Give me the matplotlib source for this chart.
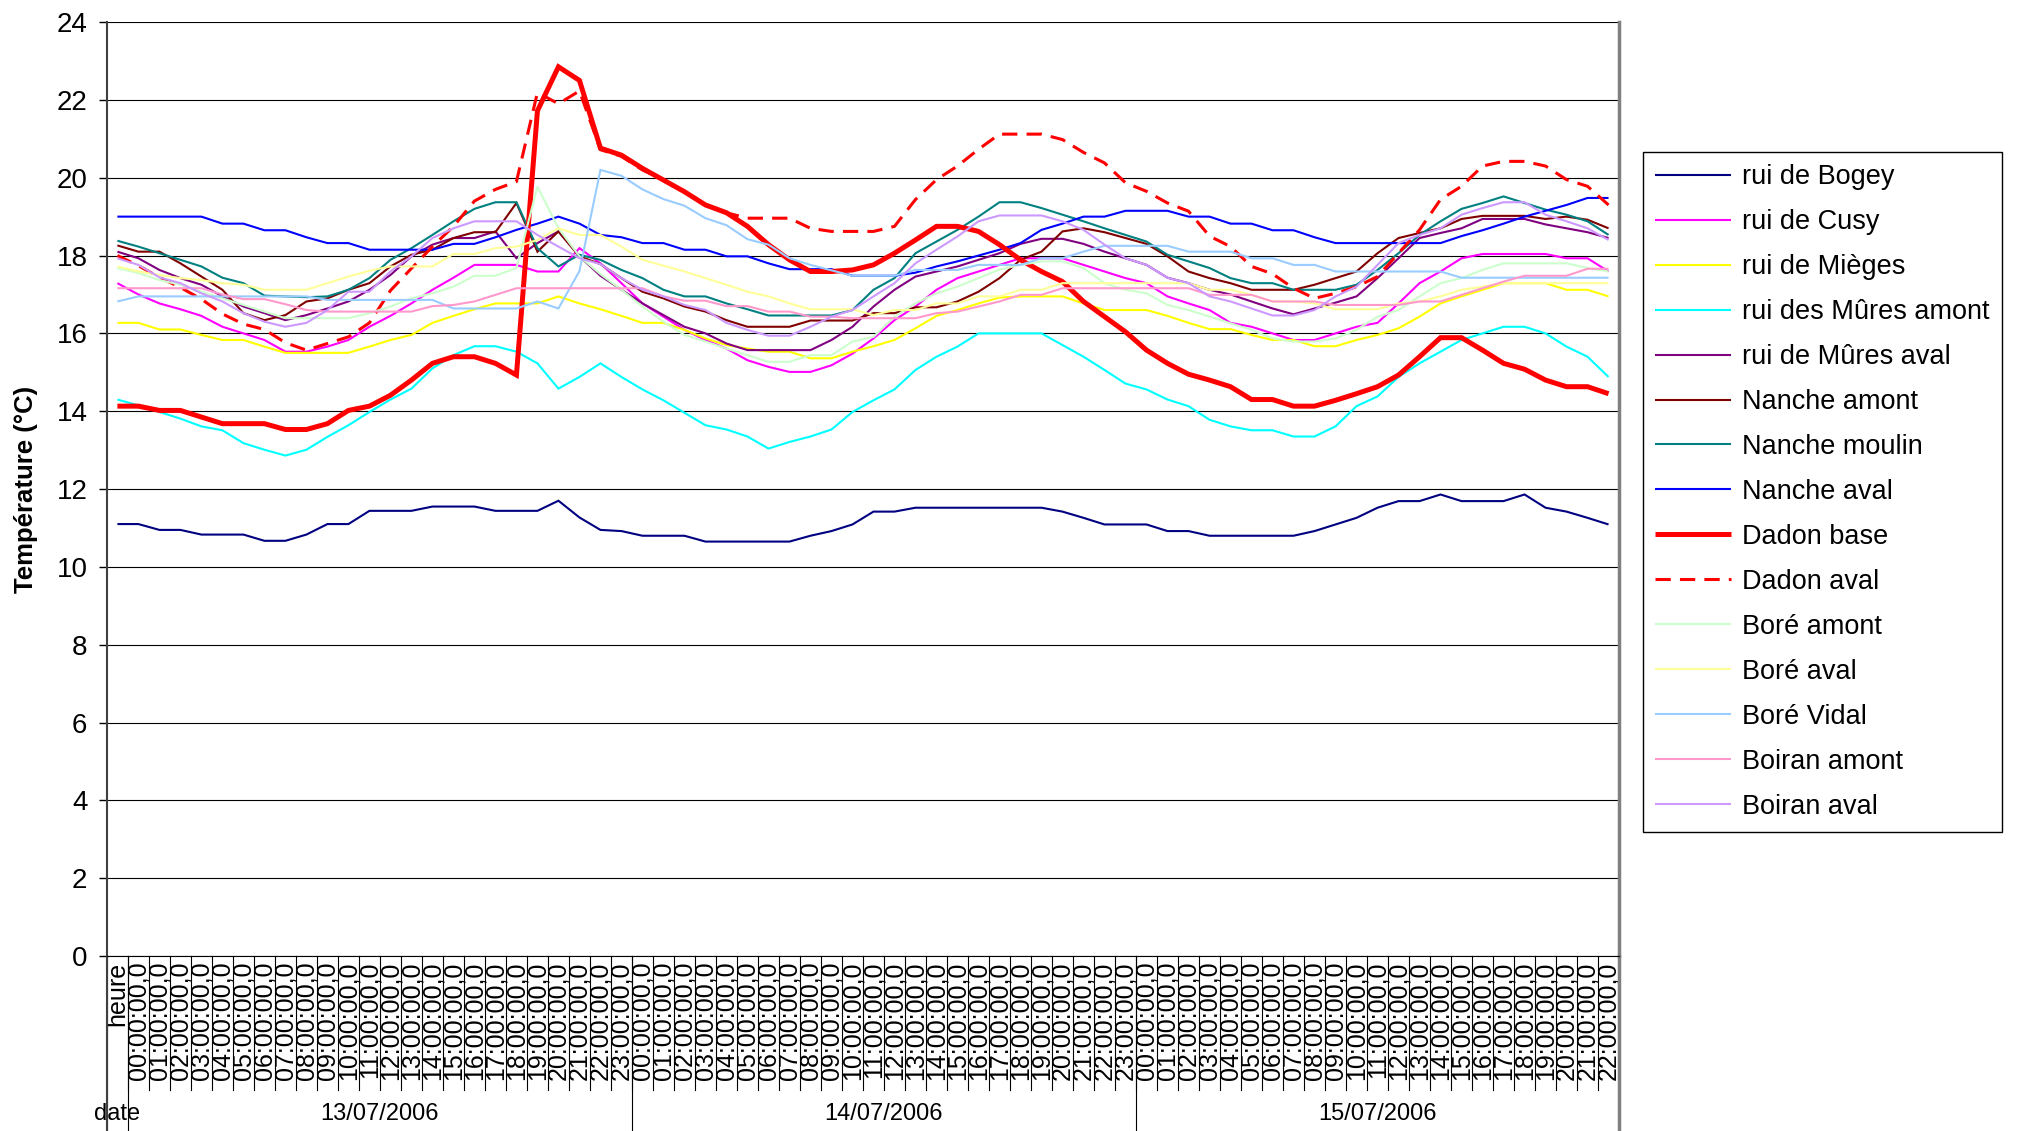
import numpy as np
import matplotlib

matplotlib.use("Agg")
import matplotlib.pyplot as plt
import matplotlib.transforms as mtransforms

plt.rcParams["font.family"] = ["Liberation Sans", "DejaVu Sans"]

# category axis: first slot is the header column, then hourly readings
hours_day1 = [f"{h:02d}:00:00,0" for h in range(24)]
hours_day2 = [f"{h:02d}:00:00,0" for h in range(24)]
hours_day3 = [f"{h:02d}:00:00,0" for h in range(23)]
hour_labels = ["heure"] + hours_day1 + hours_day2 + hours_day3
date_labels = ["date", "13/07/2006", "14/07/2006", "15/07/2006"]
date_spans = [(0, 0), (1, 24), (25, 48), (49, 71)]

rui_de_bogey = [11.1, 11.1, 10.95, 10.95, 10.83, 10.83, 10.83, 10.67, 10.67, 10.83,
                11.1, 11.1, 11.44, 11.44, 11.44, 11.55, 11.55, 11.55, 11.44, 11.44,
                11.44, 11.7, 11.27, 10.95, 10.92, 10.8, 10.8, 10.8, 10.65, 10.65,
                10.65, 10.65, 10.65, 10.8, 10.92, 11.09, 11.42, 11.42, 11.52, 11.52,
                11.52, 11.52, 11.52, 11.52, 11.52, 11.42, 11.26, 11.09, 11.09, 11.09,
                10.92, 10.92, 10.8, 10.8, 10.8, 10.8, 10.8, 10.92, 11.09, 11.26,
                11.52, 11.69, 11.69, 11.86, 11.69, 11.69, 11.69, 11.86, 11.52, 11.42,
                11.26, 11.09]
rui_de_cusy = [17.29, 17.0, 16.77, 16.62, 16.45, 16.17, 16.0, 15.83, 15.53, 15.53,
               15.66, 15.83, 16.17, 16.45, 16.77, 17.12, 17.43, 17.76, 17.76, 17.76,
               17.59, 17.59, 18.19, 17.8, 17.29, 16.77, 16.43, 16.09, 15.83, 15.61,
               15.31, 15.14, 15.01, 15.01, 15.18, 15.48, 15.87, 16.34, 16.69, 17.12,
               17.42, 17.59, 17.76, 17.93, 17.93, 17.93, 17.76, 17.59, 17.42, 17.29,
               16.95, 16.77, 16.6, 16.27, 16.17, 16.0, 15.83, 15.83, 16.0, 16.17,
               16.27, 16.77, 17.29, 17.59, 17.93, 18.04, 18.04, 18.04, 18.04, 17.93,
               17.93, 17.59]
rui_de_mieges = [16.27, 16.27, 16.1, 16.1, 15.96, 15.83, 15.83, 15.66, 15.5, 15.5,
                 15.5, 15.5, 15.66, 15.83, 15.96, 16.27, 16.45, 16.62, 16.77, 16.77,
                 16.77, 16.95, 16.77, 16.62, 16.45, 16.27, 16.27, 16.09, 15.87, 15.7,
                 15.61, 15.53, 15.53, 15.36, 15.36, 15.53, 15.67, 15.83, 16.13, 16.45,
                 16.6, 16.77, 16.92, 16.95, 16.95, 16.95, 16.77, 16.6, 16.6, 16.6,
                 16.45, 16.27, 16.11, 16.11, 15.96, 15.83, 15.83, 15.67, 15.67, 15.83,
                 15.96, 16.13, 16.43, 16.77, 16.95, 17.12, 17.29, 17.29, 17.29, 17.12,
                 17.12, 16.95]
rui_des_mures_amont = [14.3, 14.15, 13.98, 13.81, 13.61, 13.51, 13.18, 13.01, 12.86, 13.01,
                       13.34, 13.64, 13.98, 14.3, 14.58, 15.1, 15.44, 15.67, 15.67, 15.53,
                       15.23, 14.58, 14.88, 15.23, 14.88, 14.56, 14.28, 13.96, 13.64, 13.53,
                       13.35, 13.04, 13.21, 13.35, 13.53, 13.98, 14.28, 14.56, 15.06, 15.4,
                       15.66, 16.0, 16.0, 16.0, 16.0, 15.7, 15.4, 15.06, 14.71, 14.56,
                       14.3, 14.13, 13.78, 13.61, 13.51, 13.51, 13.35, 13.35, 13.61, 14.13,
                       14.38, 14.88, 15.23, 15.53, 15.83, 16.0, 16.17, 16.17, 16.0, 15.66,
                       15.4, 14.88]
rui_de_mures_aval = [18.1, 17.93, 17.63, 17.42, 17.25, 16.95, 16.69, 16.52, 16.34, 16.47,
                     16.64, 16.82, 17.12, 17.5, 17.98, 18.28, 18.45, 18.45, 18.62, 17.93,
                     18.32, 18.62, 17.98, 17.48, 17.12, 16.77, 16.47, 16.17, 16.0, 15.74,
                     15.57, 15.57, 15.57, 15.57, 15.83, 16.17, 16.69, 17.12, 17.46, 17.59,
                     17.72, 17.89, 18.06, 18.3, 18.43, 18.43, 18.3, 18.1, 17.93, 17.76,
                     17.43, 17.29, 17.12, 17.0, 16.82, 16.64, 16.49, 16.64, 16.79, 16.95,
                     17.42, 17.93, 18.45, 18.58, 18.7, 18.94, 18.94, 18.94, 18.8, 18.7,
                     18.6, 18.45]
nanche_amont = [18.26, 18.1, 18.1, 17.8, 17.46, 17.12, 16.52, 16.34, 16.47, 16.82,
                16.9, 17.12, 17.29, 17.72, 18.02, 18.15, 18.45, 18.6, 18.6, 19.35,
                18.1, 18.62, 17.98, 17.78, 17.42, 17.07, 16.9, 16.69, 16.56, 16.34,
                16.17, 16.17, 16.17, 16.33, 16.33, 16.33, 16.52, 16.52, 16.67, 16.67,
                16.82, 17.07, 17.42, 17.89, 18.1, 18.62, 18.7, 18.6, 18.45, 18.3,
                17.98, 17.59, 17.42, 17.29, 17.12, 17.12, 17.12, 17.25, 17.42, 17.59,
                18.06, 18.45, 18.58, 18.7, 18.94, 19.02, 19.02, 19.02, 18.94, 19.0,
                18.92, 18.7]
nanche_moulin = [18.38, 18.23, 18.06, 17.89, 17.72, 17.43, 17.29, 16.97, 16.95, 16.93,
                 16.95, 17.12, 17.42, 17.89, 18.19, 18.53, 18.88, 19.2, 19.37, 19.37,
                 18.19, 17.72, 18.02, 17.89, 17.63, 17.42, 17.12, 16.95, 16.95, 16.77,
                 16.62, 16.46, 16.46, 16.46, 16.46, 16.6, 17.12, 17.42, 18.06, 18.36,
                 18.66, 19.0, 19.37, 19.37, 19.22, 19.05, 18.88, 18.7, 18.53, 18.36,
                 18.02, 17.85, 17.68, 17.42, 17.29, 17.29, 17.12, 17.12, 17.12, 17.25,
                 17.63, 18.06, 18.53, 18.88, 19.2, 19.35, 19.52, 19.35, 19.18, 19.05,
                 18.88, 18.53]
nanche_aval = [19.0, 19.0, 19.0, 19.0, 19.0, 18.82, 18.82, 18.65, 18.65, 18.47,
               18.32, 18.32, 18.15, 18.15, 18.15, 18.15, 18.3, 18.3, 18.47, 18.66,
               18.82, 19.0, 18.82, 18.53, 18.47, 18.32, 18.32, 18.15, 18.15, 17.98,
               17.98, 17.8, 17.65, 17.65, 17.65, 17.48, 17.48, 17.48, 17.56, 17.72,
               17.85, 18.0, 18.15, 18.32, 18.66, 18.82, 19.0, 19.0, 19.15, 19.15,
               19.15, 19.0, 19.0, 18.82, 18.82, 18.65, 18.65, 18.47, 18.32, 18.32,
               18.32, 18.32, 18.32, 18.32, 18.5, 18.65, 18.82, 19.0, 19.15, 19.3,
               19.48, 19.48]
dadon_base = [14.13, 14.13, 14.02, 14.02, 13.85, 13.68, 13.68, 13.68, 13.53, 13.53,
              13.68, 14.02, 14.13, 14.41, 14.8, 15.23, 15.4, 15.4, 15.23, 14.93,
              21.72, 22.85, 22.5, 20.76, 20.58, 20.24, 19.94, 19.64, 19.3, 19.1,
              18.75, 18.28, 17.89, 17.59, 17.59, 17.63, 17.76, 18.06, 18.4, 18.75,
              18.75, 18.62, 18.28, 17.89, 17.59, 17.33, 16.82, 16.43, 16.04, 15.57,
              15.23, 14.95, 14.8, 14.63, 14.3, 14.3, 14.13, 14.13, 14.28, 14.45,
              14.63, 14.93, 15.4, 15.89, 15.89, 15.57, 15.23, 15.08, 14.8, 14.63,
              14.63, 14.45]
dadon_aval = [18.0, 17.74, 17.44, 17.18, 16.88, 16.5, 16.24, 16.1, 15.76, 15.57,
              15.74, 15.91, 16.27, 17.1, 17.67, 18.23, 18.75, 19.4, 19.7, 19.9,
              22.19, 21.9, 22.23, 20.72, 20.55, 20.2, 19.95, 19.65, 19.3, 19.1,
              18.96, 18.96, 18.96, 18.7, 18.62, 18.62, 18.62, 18.75, 19.44, 19.95,
              20.3, 20.73, 21.12, 21.12, 21.12, 20.98, 20.65, 20.38, 19.87, 19.65,
              19.35, 19.14, 18.5, 18.23, 17.72, 17.53, 17.16, 16.9, 17.03, 17.2,
              17.46, 18.06, 18.66, 19.44, 19.78, 20.3, 20.42, 20.42, 20.3, 19.95,
              19.78, 19.3]
bore_amont = [17.68, 17.55, 17.37, 17.25, 17.07, 16.9, 16.73, 16.56, 16.39, 16.39,
              16.39, 16.39, 16.52, 16.69, 16.9, 17.03, 17.2, 17.48, 17.48, 17.68,
              19.77, 18.7, 17.98, 17.52, 17.12, 16.69, 16.3, 15.96, 15.79, 15.61,
              15.44, 15.27, 15.27, 15.44, 15.44, 15.79, 15.91, 16.43, 16.77, 17.03,
              17.2, 17.42, 17.64, 17.76, 17.85, 17.85, 17.68, 17.29, 17.12, 17.03,
              16.73, 16.6, 16.43, 16.26, 16.09, 15.87, 15.79, 15.79, 15.87, 16.09,
              16.43, 16.6, 16.95, 17.29, 17.42, 17.63, 17.8, 17.8, 17.8, 17.8,
              17.68, 17.59]
bore_aval = [17.72, 17.59, 17.5, 17.42, 17.37, 17.29, 17.25, 17.12, 17.12, 17.12,
             17.29, 17.46, 17.61, 17.72, 17.72, 17.72, 18.04, 18.04, 18.19, 18.23,
             18.4, 18.7, 18.53, 18.53, 18.23, 17.89, 17.74, 17.59, 17.42, 17.25,
             17.07, 16.95, 16.77, 16.62, 16.62, 16.62, 16.47, 16.6, 16.6, 16.77,
             16.77, 16.95, 16.95, 17.12, 17.12, 17.29, 17.29, 17.29, 17.29, 17.29,
             17.29, 17.29, 17.12, 17.12, 16.99, 16.82, 16.82, 16.77, 16.62, 16.62,
             16.62, 16.77, 16.82, 16.95, 17.12, 17.2, 17.29, 17.29, 17.29, 17.29,
             17.29, 17.29]
bore_vidal = [16.82, 16.95, 16.95, 16.95, 16.95, 16.95, 16.95, 16.95, 16.95, 16.95,
              16.86, 16.86, 16.86, 16.86, 16.86, 16.86, 16.64, 16.64, 16.64, 16.64,
              16.82, 16.64, 17.6, 20.2, 20.05, 19.7, 19.45, 19.28, 18.96, 18.78,
              18.42, 18.28, 17.93, 17.76, 17.62, 17.48, 17.48, 17.48, 17.63, 17.63,
              17.63, 17.76, 17.76, 17.76, 17.93, 17.93, 18.1, 18.25, 18.25, 18.25,
              18.25, 18.1, 18.1, 18.1, 17.93, 17.93, 17.76, 17.76, 17.59, 17.59,
              17.59, 17.59, 17.59, 17.59, 17.43, 17.43, 17.43, 17.43, 17.43, 17.43,
              17.43, 17.43]
boiran_amont = [17.16, 17.16, 17.16, 17.16, 17.16, 17.0, 16.88, 16.88, 16.75, 16.6,
                16.56, 16.56, 16.56, 16.56, 16.56, 16.7, 16.73, 16.82, 16.99, 17.16,
                17.16, 17.16, 17.16, 17.16, 17.16, 17.16, 16.95, 16.84, 16.84, 16.7,
                16.7, 16.56, 16.56, 16.43, 16.43, 16.39, 16.39, 16.39, 16.39, 16.52,
                16.56, 16.69, 16.82, 16.99, 16.99, 17.16, 17.16, 17.16, 17.16, 17.16,
                17.16, 17.16, 16.99, 16.99, 16.99, 16.82, 16.82, 16.82, 16.73, 16.73,
                16.73, 16.73, 16.82, 16.82, 16.99, 17.16, 17.33, 17.48, 17.48, 17.48,
                17.66, 17.66]
boiran_aval = [17.93, 17.76, 17.44, 17.29, 17.03, 16.82, 16.52, 16.3, 16.17, 16.27,
               16.6, 17.07, 17.07, 17.59, 17.98, 18.45, 18.7, 18.88, 18.88, 18.88,
               18.53, 18.23, 17.93, 17.78, 17.42, 17.12, 16.95, 16.73, 16.6, 16.27,
               16.09, 15.94, 15.94, 16.17, 16.43, 16.6, 16.95, 17.29, 17.8, 18.15,
               18.49, 18.88, 19.03, 19.03, 19.03, 18.88, 18.66, 18.28, 17.93, 17.76,
               17.43, 17.29, 16.95, 16.82, 16.64, 16.46, 16.46, 16.6, 16.95, 17.2,
               17.76, 18.32, 18.53, 18.7, 19.05, 19.22, 19.37, 19.37, 19.05, 18.88,
               18.7, 18.4]

series = [
    ("rui de Bogey", rui_de_bogey, "#000080", "-", 1.5),
    ("rui de Cusy", rui_de_cusy, "#FF00FF", "-", 1.5),
    ("rui de Mièges", rui_de_mieges, "#FFFF00", "-", 1.5),
    ("rui des Mûres amont", rui_des_mures_amont, "#00FFFF", "-", 1.5),
    ("rui de Mûres aval", rui_de_mures_aval, "#800080", "-", 1.5),
    ("Nanche amont", nanche_amont, "#800000", "-", 1.5),
    ("Nanche moulin", nanche_moulin, "#008080", "-", 1.5),
    ("Nanche aval", nanche_aval, "#0000FF", "-", 1.5),
    ("Dadon base", dadon_base, "#FF0000", "-", 3.6),
    ("Dadon aval", dadon_aval, "#FF0000", (0, (5, 3)), 2.2),
    ("Boré amont", bore_amont, "#CCFFCC", "-", 1.5),
    ("Boré aval", bore_aval, "#FFFF99", "-", 1.5),
    ("Boré Vidal", bore_vidal, "#99CCFF", "-", 1.5),
    ("Boiran amont", boiran_amont, "#FF99CC", "-", 1.5),
    ("Boiran aval", boiran_aval, "#CC99FF", "-", 1.5),
]

fig = plt.figure(figsize=(20.17, 11.31), dpi=100)
ax = fig.add_axes([0.0530, 0.1547, 0.7497, 0.8258])

x = np.arange(len(hour_labels))
for name, values, color, style, lw in series:
    ax.plot(x, values, color=color, linestyle=style, linewidth=lw, label=name,
            solid_joinstyle="miter", solid_capstyle="butt")

ax.set_xlim(-0.5, len(hour_labels) - 0.5)
ax.set_ylim(0, 24)
ax.set_yticks(np.arange(0, 25, 2))
ax.yaxis.grid(True, color="black", linewidth=0.8)
ax.set_axisbelow(True)
ax.tick_params(axis="y", labelsize=20, length=6, width=1, pad=8, direction="out")

ax.set_xticks(x)
ax.set_xticklabels(hour_labels, rotation=90, fontsize=18)
ax.tick_params(axis="x", length=0, pad=4)

ax.spines["top"].set_visible(False)
ax.spines["left"].set_color("#404040")
ax.spines["left"].set_linewidth(1.5)
ax.spines["bottom"].set_color("black")
ax.spines["right"].set_color("#808080")
ax.spines["right"].set_linewidth(2.5)

# two-level category label area below the axis
trans = mtransforms.blended_transform_factory(ax.transData, ax.transAxes)
label_bottom = -0.1435
area_bottom = -0.19
for k in range(1, len(hour_labels)):
    ax.plot([k - 0.5, k - 0.5], [0, label_bottom], transform=trans,
            color="black", linewidth=0.8, clip_on=False)
for start, end in date_spans:
    ax.plot([start - 0.5, start - 0.5], [0, area_bottom], transform=trans,
            color="black", linewidth=0.8, clip_on=False)
ax.plot([len(hour_labels) - 0.5] * 2, [0, area_bottom], transform=trans,
        color="#808080", linewidth=2.5, clip_on=False)
ax.plot([-0.5, -0.5], [0, area_bottom], transform=trans,
        color="#404040", linewidth=1.5, clip_on=False)

for label, (start, end) in zip(date_labels, date_spans):
    ax.text((start + end) / 2, -0.169, label, transform=trans,
            ha="center", va="center", fontsize=17)

fig.text(0.0129, 0.567, "Température (°C)", rotation=90, ha="center",
         va="center", fontsize=18.5, fontweight="bold")

leg = fig.legend(loc="upper left", bbox_to_anchor=(0.8146, 0.8656),
                 bbox_transform=fig.transFigure, borderaxespad=0,
                 fontsize=19.5, frameon=True, fancybox=False, framealpha=1,
                 edgecolor="black", handlelength=2.8, handletextpad=0.4,
                 labelspacing=0.70, borderpad=0.45)
leg.get_frame().set_linewidth(1.0)

fig.savefig("out.png", dpi=100)
